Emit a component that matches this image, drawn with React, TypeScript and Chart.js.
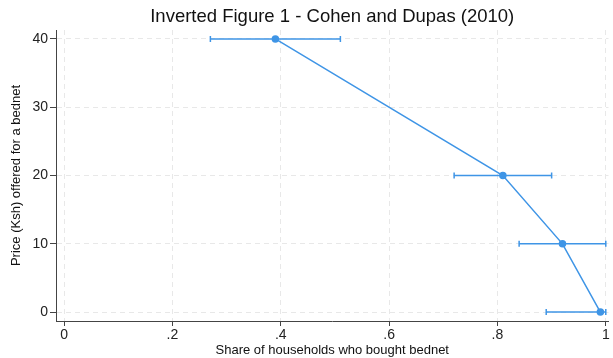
import React, { useEffect, useRef } from "react";
import { Chart, registerables } from "chart.js";

Chart.register(...registerables);

const prices = [40, 20, 10, 0];
const shares = [0.39, 0.81, 0.92, 0.99];
const ciLow = [0.27, 0.72, 0.84, 0.89];
const ciHigh = [0.51, 0.9, 1.0, 1.0];
const xTicks = [0, 0.2, 0.4, 0.6, 0.8, 1];
const yTicks = [0, 10, 20, 30, 40];
const titleText = "Inverted Figure 1 - Cohen and Dupas (2010)";

const BLUE = "#3f95e6";
const FONT = "'Liberation Sans', Arial, sans-serif";

const errorBars = {
  id: "errorBars",
  afterDatasetsDraw(chart: any) {
    const { ctx, scales } = chart;
    const x = scales.x;
    const y = scales.y;
    ctx.save();
    ctx.strokeStyle = BLUE;
    ctx.lineWidth = 1.5;
    prices.forEach((p, i) => {
      const py = y.getPixelForValue(p);
      const x1 = x.getPixelForValue(ciLow[i]);
      const x2 = x.getPixelForValue(ciHigh[i]);
      ctx.beginPath();
      ctx.moveTo(x1, py);
      ctx.lineTo(x2, py);
      ctx.moveTo(x1, py - 3);
      ctx.lineTo(x1, py + 3);
      ctx.moveTo(x2, py - 3);
      ctx.lineTo(x2, py + 3);
      ctx.stroke();
    });
    ctx.restore();
  },
};

const centeredTitle = {
  id: "centeredTitle",
  afterDraw(chart: any) {
    const { ctx, chartArea } = chart;
    ctx.save();
    ctx.fillStyle = "#111";
    ctx.font = `18.5px ${FONT}`;
    ctx.textAlign = "center";
    ctx.textBaseline = "middle";
    ctx.fillText(titleText, (chartArea.left + chartArea.right) / 2, 17);
    ctx.restore();
  },
};

export default function App() {
  const ref = useRef<HTMLCanvasElement | null>(null);
  useEffect(() => {
    document.body.style.margin = "0";
    const chart = new Chart(ref.current!, {
      type: "scatter",
      data: {
        datasets: [
          {
            data: shares.map((s, i) => ({ x: s, y: prices[i] })),
            showLine: true,
            borderColor: BLUE,
            backgroundColor: BLUE,
            borderWidth: 1.5,
            pointRadius: 3,
            pointHoverRadius: 3,
          },
        ],
      },
      options: {
        responsive: false,
        animation: false,
        layout: { padding: { right: 3, left: 0, top: 30, bottom: 0 } },
        plugins: {
          legend: { display: false },
          tooltip: { enabled: false },
          title: { display: false },
        },
        scales: {
          x: {
            type: "linear",
            min: -0.015,
            max: 1.005,
            afterBuildTicks: (s: any) => {
              s.ticks = xTicks.map((v) => ({ value: v }));
            },
            afterFit: (s: any) => {
              s.height = 37;
            },
            ticks: {
              color: "#222",
              font: { family: FONT, size: 14 },
              padding: 1,
              maxRotation: 0,
              callback: (v: any) => {
                const n = Number(v);
                if (n === 0 || n === 1) return String(n);
                return String(Number(n.toFixed(1))).replace(/^0/, "");
              },
            },
            grid: {
              color: "#e8e8e8",
              tickColor: "#444",
              tickLength: 5,
              tickBorderDash: [],
            },
            border: { color: "#444", width: 1, dash: [5, 4] },
            title: {
              display: true,
              text: "Share of households who bought bednet",
              color: "#111",
              font: { family: FONT, size: 13 },
              padding: { top: 0, bottom: 0 },
            },
          },
          y: {
            type: "linear",
            min: -1.3,
            max: 41.3,
            afterBuildTicks: (s: any) => {
              s.ticks = yTicks.map((v) => ({ value: v }));
            },
            afterFit: (s: any) => {
              s.width = 56;
            },
            ticks: {
              color: "#222",
              font: { family: FONT, size: 14 },
              padding: 2,
            },
            grid: {
              color: "#e8e8e8",
              tickColor: "#444",
              tickLength: 6,
              tickBorderDash: [],
            },
            border: { color: "#444", width: 1, dash: [5, 4] },
            title: {
              display: true,
              text: "Price (Ksh) offered for a bednet",
              color: "#111",
              font: { family: FONT, size: 13 },
              padding: { top: 9, bottom: 0 },
            },
          },
        },
      },
      plugins: [errorBars, centeredTitle],
    });
    return () => chart.destroy();
  }, []);
  return (
    <div style={{ width: 613, height: 358, background: "#fff" }}>
      <canvas ref={ref} width={613} height={358} />
    </div>
  );
}
